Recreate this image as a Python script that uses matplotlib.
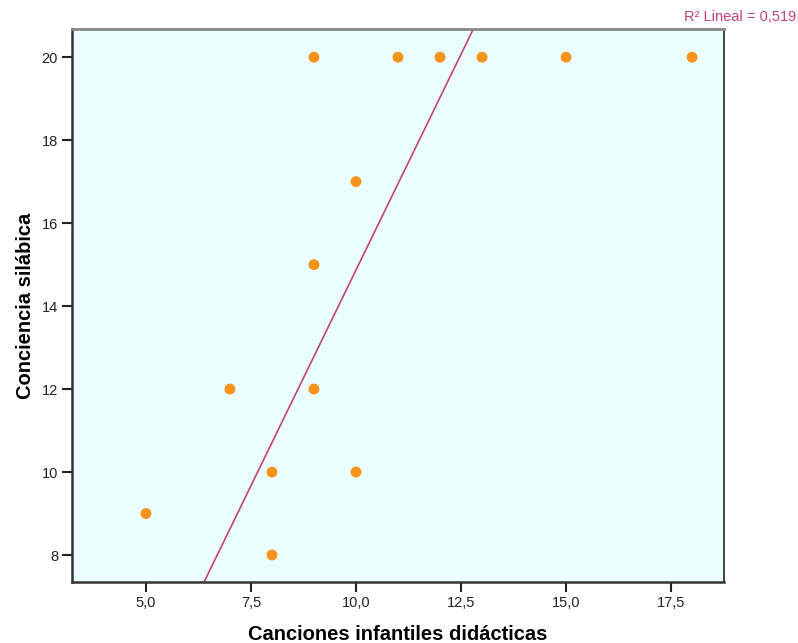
import matplotlib as mpl
mpl.use('Agg')
import matplotlib.pyplot as plt
import numpy as np

mpl.rcParams['font.family'] = ['Liberation Sans', 'DejaVu Sans']

# data
canciones = [9, 11, 12, 13, 15, 18, 10, 9, 7, 9, 8, 10, 5, 8]
conciencia = [20, 20, 20, 20, 20, 20, 17, 15, 12, 12, 10, 10, 9, 8]

# fit line (as drawn in the picture)
fit_slope = 2.08
fit_intercept = -5.93
r2_text = 'R\u00b2 Lineal = 0,519'

xticks = [5.0, 7.5, 10.0, 12.5, 15.0, 17.5]
yticks = [8, 10, 12, 14, 16, 18, 20]

fig = plt.figure(figsize=(7.98, 6.43), dpi=100)
ax = fig.add_axes([0.0902, 0.0949, 0.8171, 0.8600])
ax.set_facecolor('#ebfefe')

xlim = (3.24, 18.76)
ylim = (7.35, 20.68)

ax.scatter(canciones, conciencia, s=62, color='#f7941d', edgecolors='none', zorder=3)

lx = np.array(xlim)
ax.plot(lx, fit_intercept + fit_slope * lx, color='#c0447d', lw=1.2, zorder=2)

ax.set_xlim(*xlim)
ax.set_ylim(*ylim)
ax.set_xticks(xticks)
ax.set_xticklabels([('%.1f' % v).replace('.', ',') for v in xticks])
ax.set_yticks(yticks)
ax.set_yticklabels([str(v) for v in yticks])
ax.tick_params(axis='both', direction='out', length=7, width=1.5,
               labelsize=10.5, colors='#222222', pad=3)

for side in ['left', 'bottom']:
    ax.spines[side].set_color('#333333')
    ax.spines[side].set_linewidth(1.8)
ax.spines['top'].set_color('#888888')
ax.spines['top'].set_linewidth(2)
ax.spines['right'].set_color('#222222')
ax.spines['right'].set_linewidth(1.2)

ax.set_xlabel('Canciones infantiles didácticas', fontsize=14.5, fontweight='bold',
              labelpad=11)
ax.set_ylabel('Conciencia silábica', fontsize=14.5, fontweight='bold', labelpad=5)

fig.text(0.998, 0.974, r2_text, ha='right', va='center', fontsize=10.5, color='#c0447d')

plt.savefig('out.png', dpi=100)
